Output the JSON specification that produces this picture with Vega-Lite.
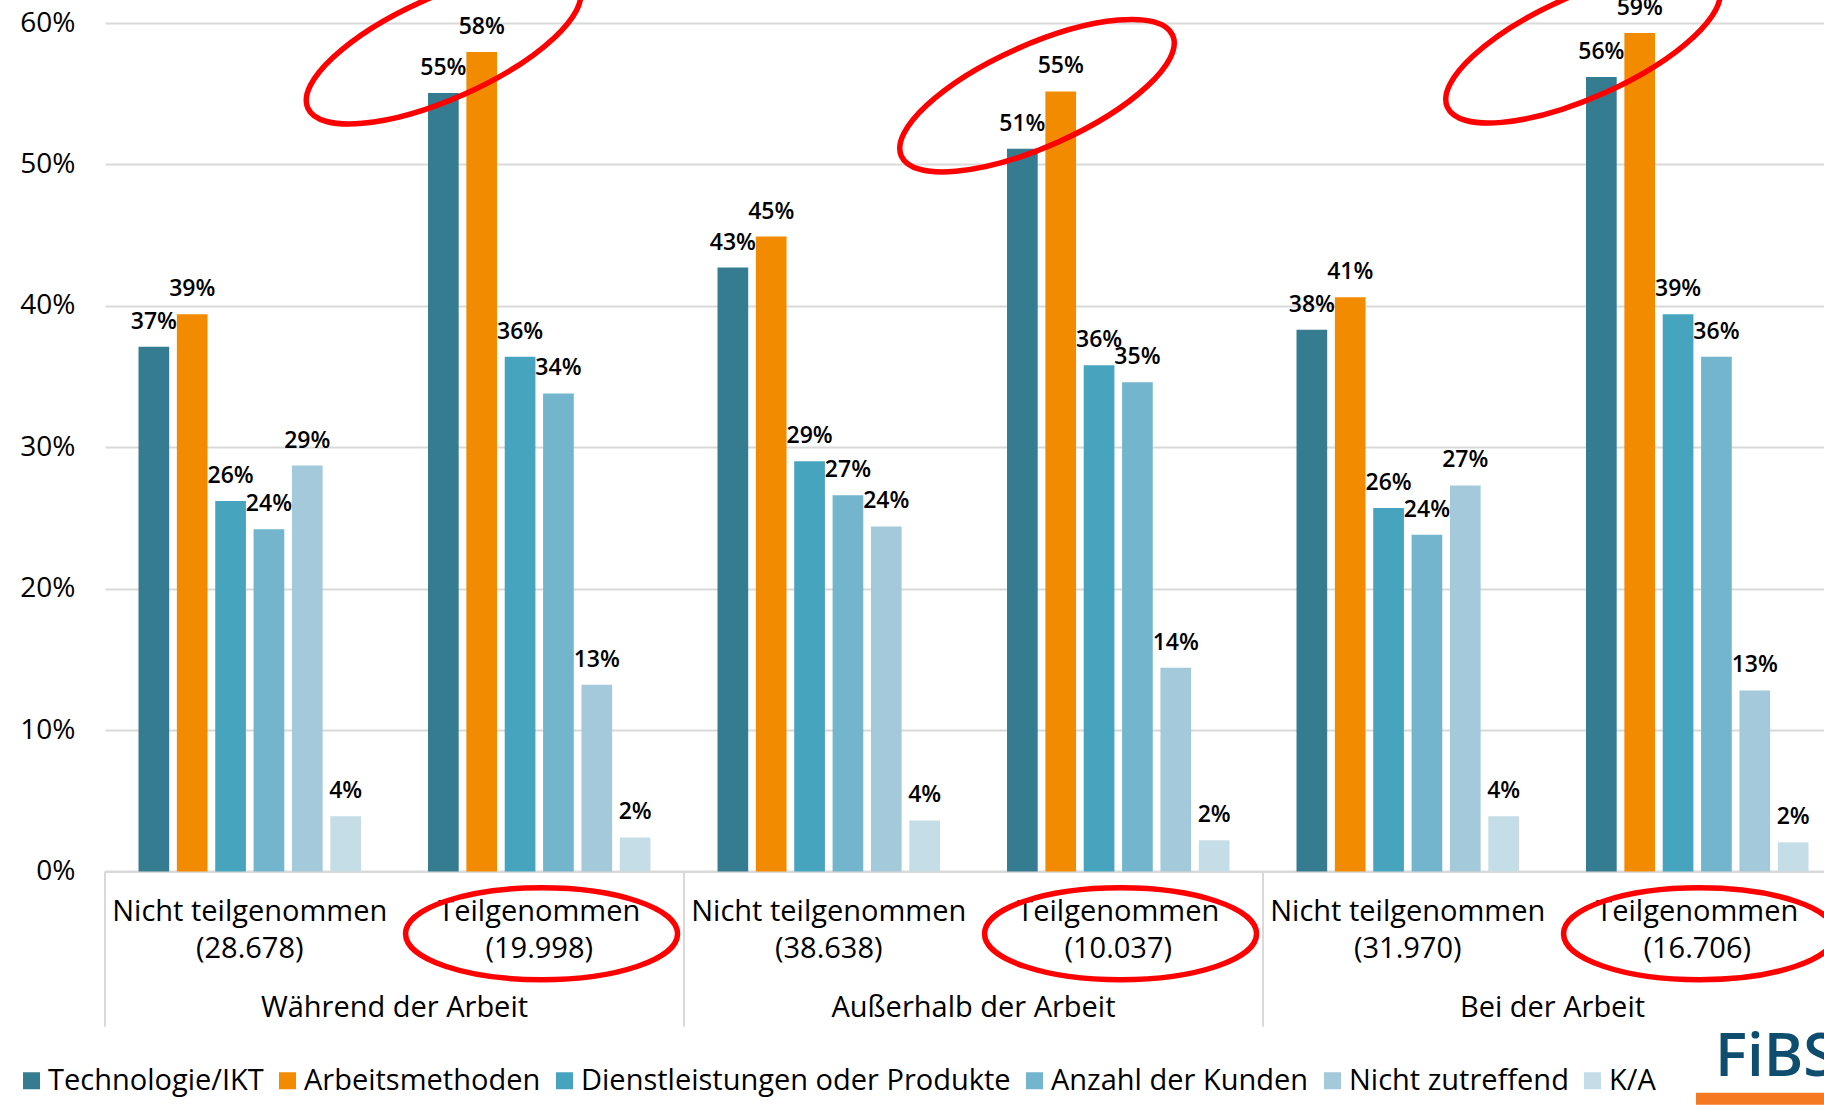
{
  "$schema": "https://vega.github.io/schema/vega-lite/v6.json",
  "width": 1719,
  "height": 848.4,
  "autosize": {"type": "none"},
  "padding": {"left": 105, "top": 23, "right": 0, "bottom": 233.6},
  "background": "#ffffff",
  "config": {
    "font": "Open Sans",
    "view": {"stroke": null},
    "text": {"font": "Open Sans"}
  },
  "data": {
    "values": [
      {"grp": "Während der Arbeit", "sub": "Nicht teilgenommen|(28.678)", "cat": "Technologie/IKT", "val": 0.371},
      {"grp": "Während der Arbeit", "sub": "Nicht teilgenommen|(28.678)", "cat": "Arbeitsmethoden", "val": 0.394},
      {"grp": "Während der Arbeit", "sub": "Nicht teilgenommen|(28.678)", "cat": "Dienstleistungen oder Produkte", "val": 0.262},
      {"grp": "Während der Arbeit", "sub": "Nicht teilgenommen|(28.678)", "cat": "Anzahl der Kunden", "val": 0.242},
      {"grp": "Während der Arbeit", "sub": "Nicht teilgenommen|(28.678)", "cat": "Nicht zutreffend", "val": 0.287},
      {"grp": "Während der Arbeit", "sub": "Nicht teilgenommen|(28.678)", "cat": "K/A", "val": 0.039},
      {"grp": "Während der Arbeit", "sub": "Teilgenommen|(19.998)", "cat": "Technologie/IKT", "val": 0.5505},
      {"grp": "Während der Arbeit", "sub": "Teilgenommen|(19.998)", "cat": "Arbeitsmethoden", "val": 0.5795},
      {"grp": "Während der Arbeit", "sub": "Teilgenommen|(19.998)", "cat": "Dienstleistungen oder Produkte", "val": 0.364},
      {"grp": "Während der Arbeit", "sub": "Teilgenommen|(19.998)", "cat": "Anzahl der Kunden", "val": 0.338},
      {"grp": "Während der Arbeit", "sub": "Teilgenommen|(19.998)", "cat": "Nicht zutreffend", "val": 0.132},
      {"grp": "Während der Arbeit", "sub": "Teilgenommen|(19.998)", "cat": "K/A", "val": 0.024},
      {"grp": "Außerhalb der Arbeit", "sub": "Nicht teilgenommen|(38.638)", "cat": "Technologie/IKT", "val": 0.427},
      {"grp": "Außerhalb der Arbeit", "sub": "Nicht teilgenommen|(38.638)", "cat": "Arbeitsmethoden", "val": 0.449},
      {"grp": "Außerhalb der Arbeit", "sub": "Nicht teilgenommen|(38.638)", "cat": "Dienstleistungen oder Produkte", "val": 0.29},
      {"grp": "Außerhalb der Arbeit", "sub": "Nicht teilgenommen|(38.638)", "cat": "Anzahl der Kunden", "val": 0.266},
      {"grp": "Außerhalb der Arbeit", "sub": "Nicht teilgenommen|(38.638)", "cat": "Nicht zutreffend", "val": 0.244},
      {"grp": "Außerhalb der Arbeit", "sub": "Nicht teilgenommen|(38.638)", "cat": "K/A", "val": 0.036},
      {"grp": "Außerhalb der Arbeit", "sub": "Teilgenommen|(10.037)", "cat": "Technologie/IKT", "val": 0.511},
      {"grp": "Außerhalb der Arbeit", "sub": "Teilgenommen|(10.037)", "cat": "Arbeitsmethoden", "val": 0.5516},
      {"grp": "Außerhalb der Arbeit", "sub": "Teilgenommen|(10.037)", "cat": "Dienstleistungen oder Produkte", "val": 0.358},
      {"grp": "Außerhalb der Arbeit", "sub": "Teilgenommen|(10.037)", "cat": "Anzahl der Kunden", "val": 0.346},
      {"grp": "Außerhalb der Arbeit", "sub": "Teilgenommen|(10.037)", "cat": "Nicht zutreffend", "val": 0.144},
      {"grp": "Außerhalb der Arbeit", "sub": "Teilgenommen|(10.037)", "cat": "K/A", "val": 0.022},
      {"grp": "Bei der Arbeit", "sub": "Nicht teilgenommen|(31.970)", "cat": "Technologie/IKT", "val": 0.383},
      {"grp": "Bei der Arbeit", "sub": "Nicht teilgenommen|(31.970)", "cat": "Arbeitsmethoden", "val": 0.406},
      {"grp": "Bei der Arbeit", "sub": "Nicht teilgenommen|(31.970)", "cat": "Dienstleistungen oder Produkte", "val": 0.257},
      {"grp": "Bei der Arbeit", "sub": "Nicht teilgenommen|(31.970)", "cat": "Anzahl der Kunden", "val": 0.238},
      {"grp": "Bei der Arbeit", "sub": "Nicht teilgenommen|(31.970)", "cat": "Nicht zutreffend", "val": 0.273},
      {"grp": "Bei der Arbeit", "sub": "Nicht teilgenommen|(31.970)", "cat": "K/A", "val": 0.039},
      {"grp": "Bei der Arbeit", "sub": "Teilgenommen|(16.706)", "cat": "Technologie/IKT", "val": 0.5618},
      {"grp": "Bei der Arbeit", "sub": "Teilgenommen|(16.706)", "cat": "Arbeitsmethoden", "val": 0.593},
      {"grp": "Bei der Arbeit", "sub": "Teilgenommen|(16.706)", "cat": "Dienstleistungen oder Produkte", "val": 0.394},
      {"grp": "Bei der Arbeit", "sub": "Teilgenommen|(16.706)", "cat": "Anzahl der Kunden", "val": 0.364},
      {"grp": "Bei der Arbeit", "sub": "Teilgenommen|(16.706)", "cat": "Nicht zutreffend", "val": 0.128},
      {"grp": "Bei der Arbeit", "sub": "Teilgenommen|(16.706)", "cat": "K/A", "val": 0.0205}
    ]
  },
  "layer": [
    {
      "mark": {"type": "bar"},
      "encoding": {
        "x": {
          "field": "sub", "type": "nominal",
          "scale": {
            "domain": ["Nicht teilgenommen|(28.678)", "Teilgenommen|(19.998)", "Nicht teilgenommen|(38.638)", "Teilgenommen|(10.037)", "Nicht teilgenommen|(31.970)", "Teilgenommen|(16.706)"],
            "range": [0, 1737], "paddingInner": 0.205, "paddingOuter": 0.1025
          },
          "axis": {
            "title": null, "labelExpr": "split(datum.label, '|')", "labelFontSize": 29, "labelFont": "Open Sans", "labelFontWeight": 500,
            "labelColor": "#000000", "labelLineHeight": 37, "labelPadding": 26, "ticks": false, "tickSize": 0,
            "domainColor": "#d9d9d9", "domainWidth": 2, "labelAngle": 0, "labelLimit": 500, "labelOverlap": false
          }
        },
        "xOffset": {
          "field": "cat", "type": "nominal",
          "scale": {"domain": ["Technologie/IKT", "Arbeitsmethoden", "Dienstleistungen oder Produkte", "Anzahl der Kunden", "Nicht zutreffend", "K/A"], "paddingInner": 0.2, "paddingOuter": 0.1}
        },
        "y": {
          "field": "val", "type": "quantitative",
          "scale": {"domain": [0, 0.6], "nice": false, "zero": true},
          "axis": {
            "title": null, "values": [0, 0.1, 0.2, 0.3, 0.4, 0.5, 0.6], "format": ".0%", "domain": false, "ticks": false,
            "grid": true, "gridColor": "#d9d9d9", "gridWidth": 2, "labelFontSize": 28, "labelFont": "Open Sans", "labelFontWeight": 500,
            "labelColor": "#000000", "labelPadding": 30
          }
        },
        "color": {
          "field": "cat", "type": "nominal",
          "scale": {
            "domain": ["Technologie/IKT", "Arbeitsmethoden", "Dienstleistungen oder Produkte", "Anzahl der Kunden", "Nicht zutreffend", "K/A"],
            "range": ["#367c91", "#f28b00", "#47a4be", "#72b5cd", "#a3c9da", "#c5dde6"]
          },
          "legend": {
            "orient": "none", "legendX": -88, "legendY": 1043, "direction": "horizontal", "columns": 6, "title": null,
            "symbolType": "square", "symbolSize": 289, "symbolStrokeWidth": 0, "symbolOpacity": 1,
            "labelFontSize": 29, "labelFont": "Open Sans", "labelFontWeight": 500, "labelColor": "#000000", "labelOffset": 2,
            "columnPadding": 9, "labelLimit": 600
          }
        }
      }
    },
    {
      "mark": {"type": "text", "dy": -18, "baseline": "alphabetic", "fontSize": 23, "fontWeight": 600, "color": "#000000"},
      "encoding": {
        "x": {"field": "sub", "type": "nominal"},
        "xOffset": {"field": "cat", "type": "nominal"},
        "y": {"field": "val", "type": "quantitative"},
        "text": {"field": "val", "type": "quantitative", "format": ".0%"}
      }
    },
    {
      "data": {"values": [{"sub": "Nicht teilgenommen|(28.678)"}, {"sub": "Nicht teilgenommen|(38.638)"}, {"sub": "Nicht teilgenommen|(31.970)"}]},
      "mark": {"type": "rule", "color": "#d9d9d9", "strokeWidth": 2},
      "encoding": {
        "x": {"field": "sub", "type": "nominal", "bandPosition": -0.129},
        "y": {"datum": 0},
        "y2": {"datum": -0.1098}
      }
    },
    {
      "data": {"values": [
        {"grp": "Während der Arbeit", "sub": "Teilgenommen|(19.998)"},
        {"grp": "Außerhalb der Arbeit", "sub": "Teilgenommen|(10.037)"},
        {"grp": "Bei der Arbeit", "sub": "Teilgenommen|(16.706)"}
      ]},
      "mark": {"type": "text", "baseline": "alphabetic", "align": "center", "fontSize": 29, "fontWeight": 500, "color": "#000000"},
      "encoding": {
        "x": {"field": "sub", "type": "nominal", "bandPosition": -0.129},
        "y": {"datum": -0.1028},
        "text": {"field": "grp"}
      }
    },
    {
      "data": {"values": [{"sub": "Teilgenommen|(19.998)"}, {"sub": "Teilgenommen|(10.037)"}, {"sub": "Teilgenommen|(16.706)"}]},
      "mark": {"type": "point", "shape": "M -1 0 A 1 0.338 0 1 1 1 0 A 1 0.338 0 1 1 -1 0 Z", "size": 73984, "filled": false, "color": "#ff0000", "strokeWidth": 5.5, "opacity": 1},
      "encoding": {
        "x": {"field": "sub", "type": "nominal", "bandPosition": 0.51},
        "y": {"datum": -0.0441}
      }
    },
    {
      "data": {"values": [{}]},
      "mark": {"type": "point", "shape": "M -1 0 A 1 0.343 0 1 1 1 0 A 1 0.343 0 1 1 -1 0 Z", "size": 88209, "angle": -24, "filled": false, "color": "#ff0000", "strokeWidth": 5.5, "opacity": 1},
      "encoding": {
        "x": {"datum": "Teilgenommen|(19.998)", "type": "nominal", "bandPosition": 0.084},
        "y": {"datum": 0.5825}
      }
    },
    {
      "data": {"values": [{}]},
      "mark": {"type": "point", "shape": "M -1 0 A 1 0.343 0 1 1 1 0 A 1 0.343 0 1 1 -1 0 Z", "size": 88209, "angle": -24, "filled": false, "color": "#ff0000", "strokeWidth": 5.5, "opacity": 1},
      "encoding": {
        "x": {"datum": "Teilgenommen|(10.037)", "type": "nominal", "bandPosition": 0.147},
        "y": {"datum": 0.5486}
      }
    },
    {
      "data": {"values": [{}]},
      "mark": {"type": "point", "shape": "M -1 0 A 1 0.343 0 1 1 1 0 A 1 0.343 0 1 1 -1 0 Z", "size": 88209, "angle": -24, "filled": false, "color": "#ff0000", "strokeWidth": 5.5, "opacity": 1},
      "encoding": {
        "x": {"datum": "Teilgenommen|(16.706)", "type": "nominal", "bandPosition": 0.0036},
        "y": {"datum": 0.5832}
      }
    },
    {
      "data": {"values": [{"logo": "FiBS"}]},
      "mark": {"type": "text", "align": "left", "baseline": "alphabetic", "fontSize": 60, "fontWeight": 600, "color": "#0e4d6e"},
      "encoding": {
        "x": {"datum": "Teilgenommen|(16.706)", "type": "nominal", "bandPosition": 0.577},
        "y": {"datum": -0.1445},
        "text": {"field": "logo"}
      }
    },
    {
      "data": {"values": [{}]},
      "mark": {"type": "point", "shape": "M 0 0 H 1 V 0.0857 H 0 Z", "size": 78400, "filled": true, "color": "#f47920", "strokeWidth": 0, "opacity": 1},
      "encoding": {
        "x": {"datum": "Teilgenommen|(16.706)", "type": "nominal", "bandPosition": 0.4946},
        "y": {"datum": -0.1565}
      }
    }
  ]
}
